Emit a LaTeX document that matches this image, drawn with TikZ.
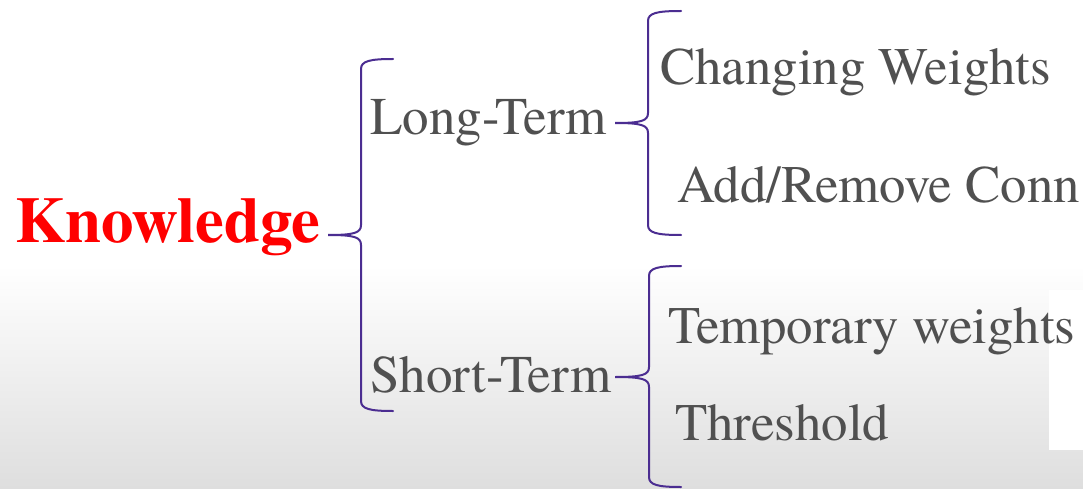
\documentclass[tikz,border=0pt]{standalone}
\usepackage{fontspec}
\newfontfamily\tnr{texgyretermes}[Extension=.otf, UprightFont=*-regular, BoldFont=*-bold]
\definecolor{bracecol}{RGB}{75,45,145}
\definecolor{txtgray}{RGB}{80,80,80}
\definecolor{bggray}{RGB}{222,222,222}
\newcommand{\kbrace}[6]{%
  \draw[brc] (#6,#2) .. controls (#1+9,#2) and (#1,#2+2) .. (#1,#2+10)
    -- (#1,#3-10) .. controls (#1,#3-2) and (#1-7,#3) .. (#5,#3)
    .. controls (#1-7,#3) and (#1,#3+2) .. (#1,#3+10)
    -- (#1,#4-10) .. controls (#1,#4-2) and (#1+9,#4) .. (#6,#4);}
\begin{document}
\begin{tikzpicture}[x=1pt,y=-1pt,
  lbl/.style={anchor=base west, inner sep=0pt, text=txtgray, font=\tnr\fontsize{52.8}{60}\selectfont},
  brc/.style={draw=bracecol, line width=2pt, line cap=round}]
\useasboundingbox (0,0) rectangle (1083,489);
\clip (0,0) rectangle (1083,489);
\fill[white] (0,0) rectangle (1083,489);
\shade[top color=white,bottom color=bggray] (0,265) rectangle (1083,489);
\fill[white] (1049,290) rectangle (1083,450);
% texts
\node[lbl, font=\tnr\bfseries\fontsize{64.8}{70}\selectfont, text=red] (know) at (15,242) {Knowledge};
\node[lbl, font=\tnr\fontsize{53}{60}\selectfont] (lt) at (370,135) {Long-Term};
\node[lbl, font=\tnr\fontsize{53}{60}\selectfont] (st) at (370,392) {Short-Term};
\node[lbl] (cw) at (660,85) {Changing Weights};
\node[lbl] (ar) at (677,202) {Add/Remove Conn};
\node[lbl] (tw) at (668,343) {Temporary weights};
\node[lbl] (th) at (675,440) {Threshold};
% braces
\kbrace{361}{59}{235}{411}{328}{393}
\kbrace{648}{11}{123}{235}{615}{681}
\kbrace{649}{266}{377}{487}{615}{681}
\end{tikzpicture}
\end{document}
